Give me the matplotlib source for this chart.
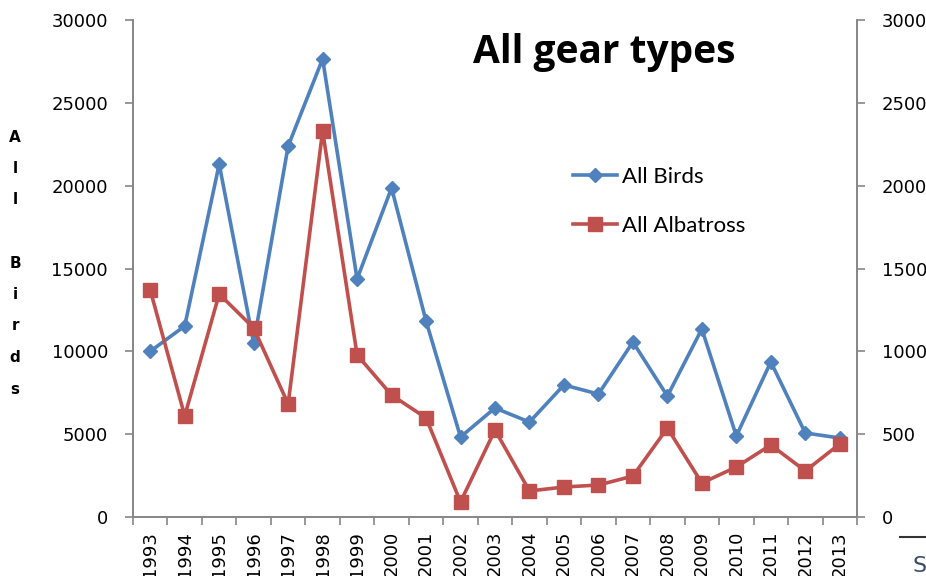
import numpy as np
import matplotlib.pyplot as plt
from matplotlib.lines import Line2D

years = [str(y) for y in range(1993, 2014)]
all_birds = [10000, 11530, 21300, 10500, 22390, 27650, 14370, 19860, 11830, 4830,
             6580, 5730, 7970, 7420, 10560, 7300, 11350, 4890, 9360, 5070, 4770]
all_albatross = [1370, 610, 1346, 1141, 682, 2330, 978, 736, 598, 91,
                 525, 157, 181, 193, 247, 537, 205, 302, 435, 278, 441]
ylabel_letters = ['A', 'l', 'l', '', 'B', 'i', 'r', 'd', 's']

blue = '#4F81BD'
red = '#C0504D'
grey = '#868686'

plt.rcParams['font.family'] = 'DejaVu Sans'

fig = plt.figure(figsize=(9.26, 5.76), dpi=100)
ax = fig.add_axes([133/926, 59/576, (857-133)/926, (517-20)/576])
ax2 = ax.twinx()

x = np.arange(len(years))
ax.plot(x, all_birds, color=blue, lw=2.6, marker='D', ms=7, label='All Birds')
ax2.plot(x, all_albatross, color=red, lw=2.6, marker='s', ms=10, label='All Albatross')

ax.set_xlim(-0.5, len(years) - 0.5)
ax.set_ylim(0, 30000)
ax2.set_ylim(0, 3000)
ax.set_yticks(np.arange(0, 30001, 5000))
ax2.set_yticks(np.arange(0, 3001, 500))

ax.set_xticks(x)
ax.set_xticklabels(years, rotation=90, fontsize=13)
ax.set_xticks(np.arange(-0.5, len(years)), minor=True)
ax.tick_params(axis='x', which='major', length=0, pad=10)
ax.tick_params(axis='x', which='minor', length=6, color=grey, width=1.2)
ax.tick_params(axis='y', length=6, color=grey, width=1.2, labelsize=13, pad=12)
ax2.tick_params(axis='y', length=6, color=grey, width=1.2, labelsize=13, pad=12)

for a in (ax, ax2):
    a.spines['top'].set_visible(False)
    for s in ('left', 'right', 'bottom'):
        a.spines[s].set_color(grey)
        a.spines[s].set_linewidth(1.2)

for i, ch in enumerate(ylabel_letters):
    fig.text(15/926, 1 - (137 + i*31.5)/576, ch, ha='center', va='center',
             fontsize=11, fontweight='bold')

fig.text(604/926, 1 - 53/576, 'All gear types', ha='center', va='center',
         fontsize=28, fontweight='bold', family='Open Sans')

handles = [Line2D([], [], color=blue, lw=2.6, marker='D', ms=7),
           Line2D([], [], color=red, lw=2.6, marker='s', ms=10)]
fig.legend(handles, ['All Birds', 'All Albatross'], loc='upper left',
           bbox_to_anchor=(553/926, 1 - 147/576), frameon=False,
           prop={'family': 'Lato', 'size': 16}, handlelength=2.0,
           handletextpad=0.2, labelspacing=1.3)

# cut-off fragment at lower right corner
fig.add_artist(Line2D([900/926, 1], [1 - 537/576, 1 - 537/576], color='#333333', lw=1.5))
fig.text(912/926, 1 - 566/576, 'S', fontsize=16, color='#3a4a6a', va='center')

fig.savefig('out.png', dpi=100)
